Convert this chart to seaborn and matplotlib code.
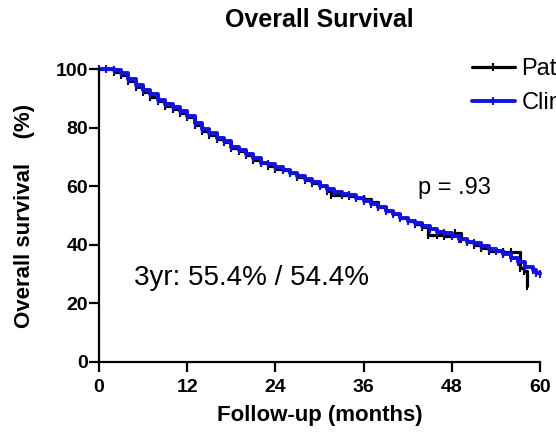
import matplotlib
matplotlib.use("Agg")
import matplotlib.pyplot as plt
import seaborn as sns
import pandas as pd

# ---- data ----
clin_months = [0, 1, 2, 3, 4, 5, 6, 7, 8, 9, 10, 11, 12, 13, 14, 15, 16, 17, 18, 19,
               20, 21, 22, 23, 24, 25, 26, 27, 28, 29, 30, 31, 32, 33, 34, 35, 36, 37,
               38, 39, 40, 41, 42, 43, 44, 45, 46, 47, 48, 49, 50, 51, 52, 53, 54, 55,
               56, 57, 58, 59, 59.5, 60]
clin_surv = [100, 100, 99.5, 98.5, 96.5, 94.5, 93, 91.5, 89.5, 88, 87, 85.5, 84, 81.5,
             79.5, 78, 76.5, 75.5, 73.5, 72.5, 71, 69.5, 68, 67.5, 66.5, 65.5, 64.5,
             63.5, 62.5, 61.5, 60, 59, 58, 57.5, 57, 56, 55, 54, 53, 51.5, 50.5, 49,
             48, 47.5, 46.5, 45.5, 44.5, 44, 43, 42, 41, 40.5, 39.5, 38.5, 38, 37,
             35.5, 34, 32.5, 31.5, 30.5, 30]

path_months = [0, 1, 2, 3, 4, 5, 6, 7, 8, 9, 10, 11, 12, 13, 14, 15, 16, 17, 18, 19,
               20, 21, 22, 23, 24, 25, 26, 27, 28, 29, 30, 31, 31.5, 33, 34, 35, 36,
               37, 38, 39, 40, 41, 42, 43, 44, 44.8, 46, 47, 48, 48.5, 49.3, 50, 51,
               52, 53, 54, 55, 56, 57.3, 57.8, 58.2]
path_surv = [100, 100, 99, 98, 96, 94, 92, 90.5, 89, 87.5, 86.5, 85, 83.5, 81, 79, 77.5,
             76, 75, 73, 72, 70.5, 69, 68, 67, 66, 65.5, 64.5, 63, 62, 61, 60, 58.5,
             57, 57, 56.5, 56, 55.5, 54.5, 53, 51.5, 50.5, 49, 48, 47, 46, 43.5, 43.5,
             43, 43, 44, 42, 41, 40, 39, 38, 38, 37.5, 37.5, 32, 31, 26]

series_labels = ["Pathological", "Clinical"]
x_ticks = [0, 12, 24, 36, 48, 60]
y_ticks = [0, 20, 40, 60, 80, 100]

df_path = pd.DataFrame({"month": path_months, "surv": path_surv})
df_clin = pd.DataFrame({"month": clin_months, "surv": clin_surv})

sns.set_style("ticks")
plt.rcParams["font.family"] = ["Liberation Sans", "DejaVu Sans"]
plt.rcParams["text.color"] = "black"
plt.rcParams["axes.labelcolor"] = "black"

fig = plt.figure(figsize=(5.56, 4.37), dpi=100)
ax = fig.add_axes([99 / 556, 1 - 362 / 437, 441 / 556, 293 / 437])

BLUE = "#1212dc"
sns.lineplot(data=df_path, x="month", y="surv", ax=ax, color="black",
             linewidth=2.3, linestyle="-", drawstyle="steps-post", estimator=None,
             errorbar=None, marker="|", markersize=6, markeredgewidth=1.5,
             markeredgecolor="black", label=series_labels[0], clip_on=False)
sns.lineplot(data=df_clin, x="month", y="surv", ax=ax, color=BLUE,
             linewidth=2.8, linestyle="-", drawstyle="steps-post", estimator=None,
             errorbar=None, marker="|", markersize=6, markeredgewidth=1.5,
             markeredgecolor=BLUE, label=series_labels[1], clip_on=False)

ax.set_xlim(0, 60)
ax.set_ylim(0, 100)
ax.set_xticks(x_ticks)
ax.set_yticks(y_ticks)
sns.despine(ax=ax)
for s in ("left", "bottom"):
    ax.spines[s].set_linewidth(1.6)
    ax.spines[s].set_color("black")
ax.tick_params(axis="both", direction="out", length=7, width=1.6, colors="black",
               labelsize=14)
ax.tick_params(axis="x", pad=5)
ax.tick_params(axis="y", pad=1)
for lbl in ax.get_xticklabels() + ax.get_yticklabels():
    lbl.set_fontweight("bold")

ax.set_xlabel("Follow-up (months)", fontsize=16, fontweight="bold", va="center")
ax.xaxis.set_label_coords(0.5, (362 - 416) / 293)
ax.set_ylabel("Overall survival    (%)", fontsize=16, fontweight="bold", va="center")
ax.yaxis.set_label_coords((25 - 99) / 441, 0.5)

fig.text(319.5 / 556, 1 - 20 / 437, "Overall Survival", ha="center", va="center",
         fontsize=18, fontweight="bold")

ax.text(43.4, 59.5, "p = .93", fontsize=17, ha="left", va="center")
ax.text(4.8, 28.5, "3yr: 55.4% / 54.4%", fontsize=20, ha="left", va="center")

handles, labels = ax.get_legend_handles_labels()
leg = ax.legend(handles, labels, loc="upper left",
                bbox_to_anchor=(472 / 556, 1 - 58 / 437),
                bbox_transform=fig.transFigure, frameon=False, fontsize=17,
                handlelength=1.8, handletextpad=0.3, labelspacing=0.5,
                borderpad=0, borderaxespad=0)

fig.savefig("out.png", dpi=100)
